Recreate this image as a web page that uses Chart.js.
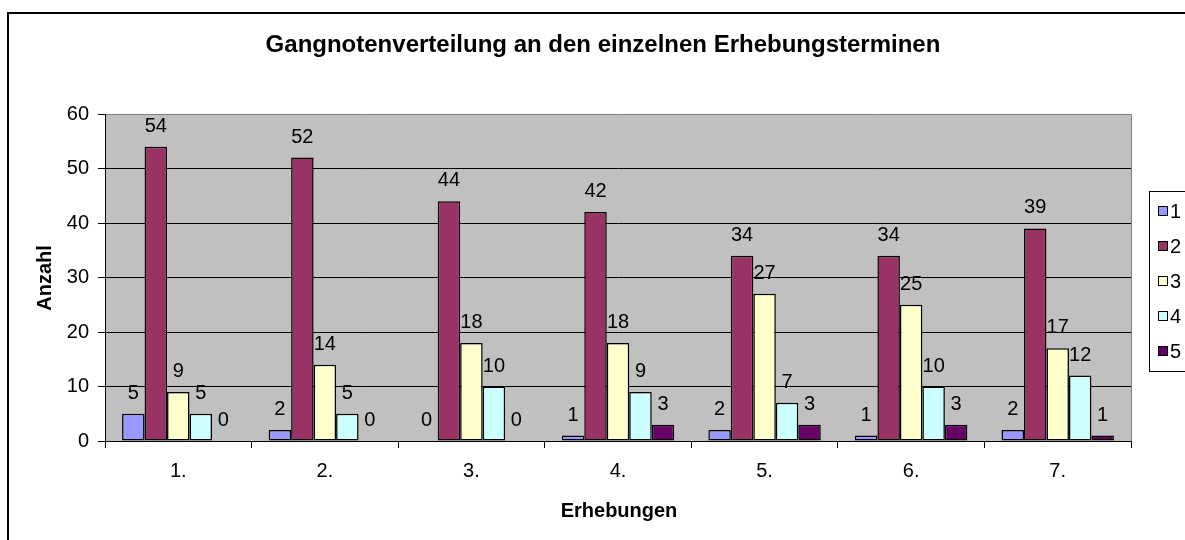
<!DOCTYPE html>
<html>
<head>
<meta charset="utf-8">
<script src="https://cdn.jsdelivr.net/npm/chart.js@4/dist/chart.umd.min.js"></script>
<style>
html,body{margin:0;padding:0;background:#fff;}
#wrap{width:1185px;height:540px;position:relative;}
</style>
</head>
<body>
<div id="wrap"><canvas id="c" width="1185" height="540"></canvas></div>
<script>
const chartTitle = 'Gangnotenverteilung an den einzelnen Erhebungsterminen';
const xTitle = 'Erhebungen';
const yTitle = 'Anzahl';
const categories = ['1.', '2.', '3.', '4.', '5.', '6.', '7.'];
const seriesNames = ['1', '2', '3', '4', '5'];
const seriesColors = ['#9999FF', '#993366', '#FFFFCC', '#CCFFFF', '#660066'];
const note1 = [5, 2, 0, 1, 2, 1, 2];
const note2 = [54, 52, 44, 42, 34, 34, 39];
const note3 = [9, 14, 18, 18, 27, 25, 17];
const note4 = [5, 5, 10, 9, 7, 10, 12];
const note5 = [0, 0, 0, 3, 3, 3, 1];
const seriesValues = [note1, note2, note3, note4, note5];
const yMin = 0, yMax = 60, yStep = 10;

const FONT = "'Liberation Sans', Arial, sans-serif";

const decor = {
  id: 'decor',
  beforeDraw(chart) {
    const ctx = chart.ctx, a = chart.chartArea;
    ctx.save();
    ctx.fillStyle = '#fff';
    ctx.fillRect(0, 0, chart.width, chart.height);
    ctx.strokeStyle = '#000';
    ctx.lineWidth = 2;
    ctx.strokeRect(8, 13, chart.width + 20, chart.height + 20);
    ctx.fillStyle = '#C0C0C0';
    ctx.fillRect(a.left, a.top, a.right - a.left, a.bottom - a.top);
    ctx.restore();
  },
  afterDraw(chart) {
    const ctx = chart.ctx, a = chart.chartArea;
    ctx.save();
    ctx.strokeStyle = '#808080';
    ctx.lineWidth = 1;
    ctx.beginPath();
    ctx.moveTo(Math.round(a.right) + 0.5, a.top);
    ctx.lineTo(Math.round(a.right) + 0.5, a.bottom);
    ctx.stroke();
    ctx.fillStyle = '#000';
    ctx.textAlign = 'center';
    ctx.textBaseline = 'alphabetic';
    ctx.font = 'bold 24px ' + FONT;
    ctx.fillText(chartTitle, 603, 52);
    ctx.font = 'bold 20px ' + FONT;
    ctx.fillText(xTitle, 619, 517);
    ctx.save();
    ctx.translate(51, 278);
    ctx.rotate(-Math.PI / 2);
    ctx.fillText(yTitle, 0, 0);
    ctx.restore();
    ctx.lineWidth = 1;
    ctx.strokeStyle = '#000';
    ctx.fillStyle = '#fff';
    ctx.fillRect(1149.5, 191.5, 60, 180);
    ctx.strokeRect(1149.5, 191.5, 60, 180);
    ctx.font = '20px ' + FONT;
    ctx.textAlign = 'left';
    ctx.textBaseline = 'middle';
    seriesNames.forEach((n, i) => {
      const cy = 211 + i * 35;
      ctx.fillStyle = seriesColors[i];
      ctx.fillRect(1158.5, cy - 4.5, 9, 9);
      ctx.strokeRect(1158.5, cy - 4.5, 9, 9);
      ctx.fillStyle = '#000';
      ctx.fillText(n, 1170, cy + 1);
    });
    ctx.restore();
  },
  afterDatasetsDraw(chart) {
    const ctx = chart.ctx;
    ctx.save();
    ctx.fillStyle = '#000';
    ctx.font = '20px ' + FONT;
    ctx.textAlign = 'center';
    ctx.textBaseline = 'alphabetic';
    chart.data.datasets.forEach((ds, di) => {
      const meta = chart.getDatasetMeta(di);
      meta.data.forEach((el, i) => {
        ctx.fillText(String(ds.data[i]), el.x, el.y - 15);
      });
    });
    ctx.restore();
  }
};

new Chart(document.getElementById('c'), {
  type: 'bar',
  data: {
    labels: categories,
    datasets: seriesValues.map((vals, i) => ({
      label: seriesNames[i],
      data: vals,
      backgroundColor: seriesColors[i],
      borderColor: '#000',
      borderWidth: 1.5,
      borderSkipped: false,
      categoryPercentage: 0.767,
      barPercentage: 1.0
    }))
  },
  options: {
    responsive: false,
    devicePixelRatio: 1,
    animation: false,
    layout: { padding: { top: 114, right: 54, left: 0, bottom: 0 } },
    plugins: { legend: { display: false }, title: { display: false }, tooltip: { enabled: false } },
    font: { family: FONT },
    scales: {
      x: {
        afterFit(s) { s.height = 99; },
        grid: { display: true, drawOnChartArea: false, offset: true, color: '#000', tickLength: 7 },
        border: { display: true, color: '#000' },
        ticks: { color: '#000', padding: 11, font: { family: FONT, size: 20 }, maxRotation: 0 }
      },
      y: {
        min: yMin, max: yMax,
        afterFit(s) { s.width = 105; },
        grid: {
          color: (c) => (c.tick && c.tick.value === yMax) ? '#808080' : '#000',
          tickColor: '#000',
          tickLength: 7
        },
        border: { display: true, color: '#000' },
        ticks: { stepSize: yStep, color: '#000', padding: 9, font: { family: FONT, size: 20 } }
      }
    }
  },
  plugins: [decor]
});
</script>
</body>
</html>
